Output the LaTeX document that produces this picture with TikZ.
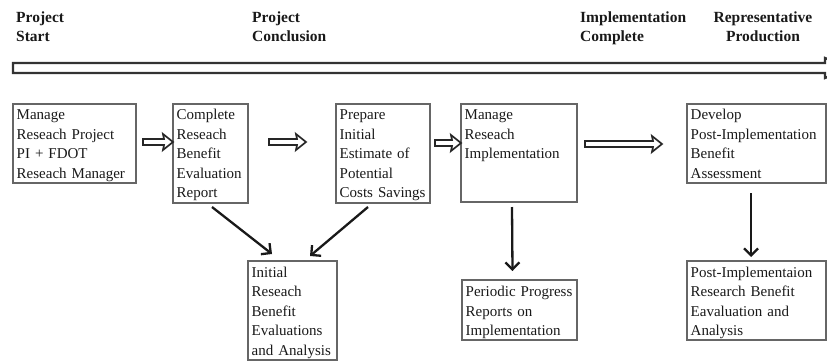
\documentclass[tikz,border=0pt]{standalone}
\usepackage{fontspec}
\setmainfont{Liberation Serif}
\usetikzlibrary{arrows.meta,calc}
\begin{document}
\begin{tikzpicture}[x=1pt,y=-1pt,
  ink/.style={black!90},
  box/.style={draw=black!60, line width=1.3pt, rectangle, inner sep=0pt, outer sep=0pt, anchor=north west},
  boxtext/.style={ink, anchor=base west, inner sep=0pt, text width=160pt, align=left,
    font=\fontsize{15}{19.5}\selectfont},
  head/.style={ink, anchor=base west, inner sep=0pt, text width=130pt, align=left,
    font=\fontsize{15.5}{19}\selectfont\bfseries},
  timeline/.style={draw=black!80, line width=2.3pt, line join=miter},
  hollow/.style={draw=black!85, line width=1.7pt, line join=miter,
    to path={($(\tikztostart)+(0,-3)$) -- ($(\tikztotarget)+(-9,-3)$)
      -- ($(\tikztotarget)+(-10,-8)$) -- (\tikztotarget) -- ($(\tikztotarget)+(-10,8)$)
      -- ($(\tikztotarget)+(-9,3)$) -- ($(\tikztostart)+(0,3)$) -- cycle}},
  flow/.style={draw=black!90, line width=2.3pt, -{Straight Barb[length=7pt,width=14pt,line width=2.3pt]}}
]
\useasboundingbox (0,0) rectangle (827,362);
\clip (0,0) rectangle (827,362);

% milestone headings
\node[head] (hStart) at (16,22) {Project\\Start};
\node[head] (hConcl) at (252,22) {Project\\Conclusion};
\node[head] (hImpl) at (580,22) {Implementation\\Complete};
\node[head, anchor=base, text width=120pt, align=center] (hProd) at (763,22) {Representative\\Production};

% timeline bar running off the right edge
\draw[timeline] (13,63) -- (825,63) -- (825,58) -- (850,68) -- (825,78) -- (825,73) -- (13,73) -- cycle;

% process boxes
\node[box, minimum width=123pt, minimum height=79pt] (b1) at (13,104) {};
\node[box, minimum width=75pt,  minimum height=99pt] (b2) at (173,104) {};
\node[box, minimum width=94pt,  minimum height=99pt] (b3) at (336,104) {};
\node[box, minimum width=116pt, minimum height=98pt] (b4) at (461,104) {};
\node[box, minimum width=139pt, minimum height=79pt] (b5) at (687,104) {};
\node[box, minimum width=89pt,  minimum height=99pt] (b6) at (248,261) {};
\node[box, minimum width=115pt, minimum height=60pt] (b7) at (462,280) {};
\node[box, minimum width=139pt, minimum height=79pt] (b8) at (687,261) {};

% box texts
\node[boxtext] (t1) at ([shift={(3.5,15.5)}]b1.north west) {Manage\\Reseach Project\\PI + FDOT\\Reseach Manager};
\node[boxtext] (t2) at ([shift={(3.5,15.5)}]b2.north west) {Complete\\Reseach\\Benefit\\Evaluation\\Report};
\node[boxtext] (t3) at ([shift={(3.5,15.5)}]b3.north west) {Prepare\\Initial\\Estimate of\\Potential\\Costs Savings};
\node[boxtext] (t4) at ([shift={(3.5,15.5)}]b4.north west) {Manage\\Reseach\\Implementation};
\node[boxtext] (t5) at ([shift={(3.5,15.5)}]b5.north west) {Develop\\Post-Implementation\\Benefit\\Assessment};
\node[boxtext] (t6) at ([shift={(3.5,16)}]b6.north west) {Initial\\Reseach\\Benefit\\Evaluations\\and Analysis};
\node[boxtext] (t7) at ([shift={(3.5,16.5)}]b7.north west) {Periodic Progress\\Reports on\\Implementation};
\node[boxtext] (t8) at ([shift={(3.5,16)}]b8.north west) {Post-Implementaion\\Research Benefit\\Eavaluation and\\Analysis};

% hollow step arrows along the top row
\coordinate (a1) at (143,142);
\coordinate (a2) at (269,142);
\coordinate (a2e) at (306,142);
\coordinate (a3) at (435,143);
\coordinate (a4) at (585,144);
\coordinate (a4e) at (662,144);
\draw[hollow] (a1) to (a1 -| b2.west);
\draw[hollow] (a2) to (a2e);
\draw[hollow] (a3) to (a3 -| b4.west);
\draw[hollow] (a4) to (a4e);

% result arrows
\draw[flow] ([shift={(1.5,4)}]b2.south) -- ([shift={(24,-7)}]b6.north west);
\draw[flow] ([shift={(-15,4)}]b3.south) -- ([shift={(-27,-5)}]b6.north east);
\draw[flow] ([shift={(-7,5)}]b4.south) -- ([shift={(-7,-9)}]b7.north);
\draw[flow] ([shift={(-5.5,10)}]b5.south) -- ([shift={(-5.5,-4)}]b8.north);
\end{tikzpicture}
\end{document}
